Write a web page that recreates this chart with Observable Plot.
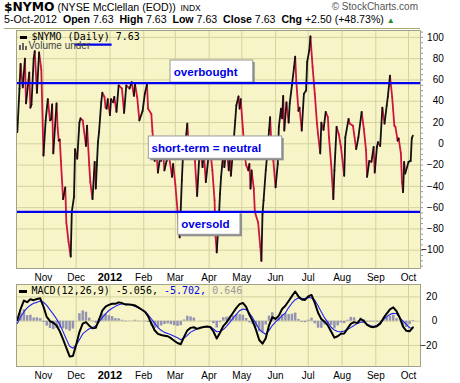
<!DOCTYPE html>
<html><head><meta charset="utf-8">
<script src="https://cdn.jsdelivr.net/npm/d3@7"></script>
<script src="https://cdn.jsdelivr.net/npm/@observablehq/plot@0.6"></script>
<style>
body{margin:0;background:#fff;}
#wrap{position:relative;width:460px;height:383px;overflow:hidden;font-family:"Liberation Sans",Arial,sans-serif;}
.abs{position:absolute;white-space:nowrap;}
#main,#macd{position:absolute;left:0;}
#main{top:28px;} #macd{top:283px;}
.mono{font-family:"DejaVu Sans Mono","Liberation Mono",monospace;font-size:10px;line-height:10px;}
</style></head><body>
<div id="wrap">
  <div id="main"></div>
  <div id="macd"></div>
  <div class="abs" style="left:4px;top:-1px;line-height:13px;">
    <span style="font:bold 12.3px 'DejaVu Sans',sans-serif;">$NYMO</span><span style="font:10.6px 'Liberation Sans',Arial,sans-serif;"> (NYSE McClellan (EOD))</span><span style="font:8.5px 'Liberation Sans',Arial,sans-serif;">&nbsp; INDX</span>
  </div>
  <div class="abs" style="right:42px;top:0;line-height:13px;font-size:10px;color:#555;">© StockCharts.com</div>
  <div class="abs" style="left:4px;top:13px;line-height:13px;font-size:10.6px;color:#000;">5-Oct-2012&nbsp; <b>Open</b> 7.63&nbsp; <b>High</b> 7.63&nbsp; <b>Low</b> 7.63&nbsp; <b>Close</b> 7.63&nbsp; <b>Chg</b> +2.50 (+48.73%) <span style="color:#2a8a2a;font-size:8px;">▲</span></div>
  <div class="abs" style="left:4px;top:28px;width:416px;height:1px;background:#aaa97c;"></div>
  <!-- main legend -->
  <div class="abs" style="left:20px;top:35.5px;width:7px;height:3px;background:#000;"></div>
  <div class="abs mono" style="left:31.5px;top:31.5px;color:#000;">$NYMO (Daily) 7.63</div>
  <svg class="abs" style="left:19px;top:43px;" width="9" height="7"><rect x="0" y="2" width="2" height="5" fill="#666"/><rect x="3" y="0" width="2" height="7" fill="#666"/><rect x="6" y="3" width="2" height="4" fill="#666"/></svg>
  <div class="abs" style="left:28.5px;top:41px;font-size:10px;line-height:10px;color:#444;">Volume under</div>
  <!-- macd legend -->
  <div class="abs" style="left:18.5px;top:289.5px;width:8px;height:3px;background:#000;"></div>
  <div class="abs mono" style="left:31.5px;top:285.5px;"><span style="color:#000">MACD(12,26,9) -5.056,</span><span style="color:#0000ee"> -5.702,</span><span style="color:#999"> 0.646</span></div>
</div>
<script>
// ---------- data ----------
const nymoDates = ["2011-10-08","2011-10-10","2011-10-11","2011-10-13","2011-10-15","2011-10-16","2011-10-19","2011-10-20","2011-10-21","2011-10-23","2011-10-24","2011-10-26","2011-10-28","2011-10-30",
"2011-11-01","2011-11-03","2011-11-05","2011-11-07","2011-11-08","2011-11-09","2011-11-10","2011-11-13","2011-11-14","2011-11-15","2011-11-16","2011-11-17","2011-11-19","2011-11-21","2011-11-22","2011-11-24","2011-11-26","2011-11-27","2011-11-29","2011-11-30",
"2011-12-02","2011-12-04","2011-12-05","2011-12-07","2011-12-10","2011-12-11","2011-12-13","2011-12-14","2011-12-16","2011-12-18","2011-12-19","2011-12-20","2011-12-21","2011-12-22","2011-12-24","2011-12-25","2011-12-27","2011-12-28","2011-12-29","2011-12-30",
"2012-01-01","2012-01-02","2012-01-04","2012-01-05","2012-01-07","2012-01-09","2012-01-12","2012-01-14","2012-01-16","2012-01-19","2012-01-21","2012-01-23","2012-01-24","2012-01-26","2012-01-28","2012-01-31",
"2012-02-02","2012-02-04","2012-02-05","2012-02-08","2012-02-09","2012-02-10","2012-02-11","2012-02-13","2012-02-14","2012-02-16","2012-02-17","2012-02-19","2012-02-20","2012-02-22","2012-02-24","2012-02-27","2012-02-28",
"2012-03-01","2012-03-05","2012-03-07","2012-03-08","2012-03-10","2012-03-12","2012-03-13","2012-03-15","2012-03-17","2012-03-19","2012-03-21","2012-03-23","2012-03-24","2012-03-26","2012-03-27","2012-03-29","2012-03-31",
"2012-04-02","2012-04-04","2012-04-06","2012-04-07","2012-04-08","2012-04-10","2012-04-11","2012-04-12","2012-04-14","2012-04-15","2012-04-17","2012-04-19","2012-04-20","2012-04-21","2012-04-23","2012-04-25","2012-04-26","2012-04-28","2012-04-29","2012-04-30",
"2012-05-02","2012-05-04","2012-05-05","2012-05-07","2012-05-08","2012-05-09","2012-05-10","2012-05-12","2012-05-13","2012-05-16","2012-05-18","2012-05-19","2012-05-20","2012-05-21","2012-05-23","2012-05-24","2012-05-26","2012-05-27","2012-05-28","2012-05-30",
"2012-06-01","2012-06-03","2012-06-04","2012-06-06","2012-06-07","2012-06-08","2012-06-09","2012-06-11","2012-06-13","2012-06-14","2012-06-16","2012-06-18","2012-06-19","2012-06-20","2012-06-22","2012-06-23","2012-06-25","2012-06-27","2012-06-29","2012-06-30",
"2012-07-02","2012-07-03","2012-07-05","2012-07-07","2012-07-09","2012-07-10","2012-07-12","2012-07-13","2012-07-15","2012-07-17","2012-07-19","2012-07-20","2012-07-22","2012-07-24","2012-07-25","2012-07-27","2012-07-29","2012-07-31",
"2012-08-03","2012-08-04","2012-08-07","2012-08-08","2012-08-11","2012-08-14","2012-08-16","2012-08-19","2012-08-21","2012-08-23","2012-08-24","2012-08-26","2012-08-28","2012-08-30","2012-08-31",
"2012-09-02","2012-09-03","2012-09-05","2012-09-07","2012-09-09","2012-09-11","2012-09-12","2012-09-14","2012-09-16","2012-09-18","2012-09-19","2012-09-21","2012-09-22","2012-09-24","2012-09-25","2012-09-26","2012-09-27","2012-09-28",
"2012-10-01","2012-10-03","2012-10-04","2012-10-05"];
const nymoValues = [11,52,75,53,80,38,67,34,37,80,87,48,86,70,
-11,22,42,22,23,37,-9,38,15,3,4,-16,-52,-41,-74,-92,-106,-64,-50,-5,
-14,20,24,22,-2,17,-20,-36,-52,-17,-42,-20,1.5,11,39,48,44,34,33,42,
27,42,39,44,30,55,52,29,55,52,58,45,56,44,22,31,
47,56,33,28,12,-2,-16,-12,-27,-13,-16,-10,-25,-16,-10,-31,-19,
-38,-88,-34,-12,-2,19,3,-2,3,-16,-49,-12,-6,-22,-6,-36,-16,
-5,-25,-53,-88,-102,-69,-47,-31,-9,-22,-3,-25,-8,-30,-5,22,36,44.5,33,42,
14,-13,-20,-25,-19,-42,-25,-42,-64,-74,-97,-110,-66,-53,-25,-14,12.5,25,3,-16,
-41,-19,16,33,24,45,12.5,39,20,38,55,72,82,59,31,34,12.5,47,50,77,
88,101,72,47,19,9,-9,20,13,30,25,6,-19,-52,-25,16,9,-3,
-30,6,23.5,19,17,-5,6,30,14,-6,-31,-16,-17,-3,-27,
-3,1.5,-2,34,19,36,44,64,44,17,16,3,5,-9,-36,-45.5,-17,-28,
-17,-16,5.13,7.63];

// MACD panel: samples every third day from 8 Oct 2011 to 5 Oct 2012
const macdStart = "2011-10-08";
const macdStepDays = 3;
const macdValues = [1,10,17,15.6,18,17.3,18.3,18.8,12,3.5,
0,-1.3,-3.5,-8.4,-15,-22,-29,-28.7,-19.5,-9,
-2,-0.8,-3.7,-5.8,-5.5,1.2,8.7,12,13.4,14.3,
14.3,15.5,14.9,13.8,13.7,13.5,13,11.4,9.6,7.8,
4.2,-1.9,-7.5,-10.4,-11.4,-11.9,-12.4,-14,-16.1,-18,
-19,-12.9,-7.6,-5.5,-5,-6.3,-5.4,-4.8,-4.4,-4.8,
-8.5,-14.3,-9.5,-4,-1,3,7,11,14,15,
11.7,5.2,0,-7,-15.5,-18.5,-14,-3.4,3.3,1.9,
4.6,10,12.7,16.6,20.6,24.4,20.4,17.9,17.5,20.4,
21.6,15,6.9,1.7,-0.4,-3.5,-8.5,-13.6,-12.4,-10.4,
-10.1,-6.1,-2.2,-0.8,-1.6,1.8,0.3,-3.1,-4.5,-4.9,
-4.1,-2,2.5,6.3,9.8,11.4,8.2,2.8,-4.5,-7.9,
-8.3,-5.056];
const signalValues = [-1.9,3.4,7.6,11,13.1,14.7,15.5,16.7,15.6,13,
9.3,5.8,1.9,-2.7,-8.6,-14.9,-20.7,-22.2,-19.6,-15.2,
-10.5,-8.2,-6.2,-5.3,-3.8,-0.6,3,6.1,8.8,10.6,
12.2,13.6,14.1,14.2,13.9,13.3,12.2,11.1,9.7,8.2,
5.3,2,-1.6,-5.2,-7.5,-9.2,-10.2,-11.1,-12.4,-13.7,
-15.3,-13.9,-11.7,-9,-7.6,-6.3,-5.6,-4.9,-4.6,-4.4,
-6.4,-8.7,-8.3,-6.9,-4.2,-1,2.6,5.7,8.6,10.1,
9.5,6.6,2.7,-1.9,-6.7,-9.1,-10.8,-7.6,-3.6,-0.5,
1.8,4.6,6.7,11.2,14.8,17.7,19,18.8,18.7,19.6,
19.1,17.2,12.7,7.6,2.7,-1,-5,-7.3,-8.5,-8.8,
-8.1,-6.9,-5.3,-3.6,-1.8,-0.8,-0.8,-2.5,-3.8,-4.3,
-3.3,-1.3,1.4,3.6,5.6,6.5,6.1,2.8,0,-2.7,
-5.4,-5.702];
const histValues = [2.9,6.6,9.4,4.6,4.9,2.6,2.8,2.1,-1,-4,
-6,-7,-6,-5.7,-6.4,-7.1,-8.3,-6.5,0.1,6.2,
8.5,7.4,2.5,-0.5,-1.7,1.8,5.7,5.9,4.6,3.7,
2.1,1.9,0.8,-0.4,-0.2,0.2,0.8,0.3,-0.1,-0.4,
-1.1,-3.9,-5.9,-5.2,-3.9,-2.7,-2.2,-2.9,-3.7,-4.3,
-3.7,1,4.1,3.5,2.6,0,0.2,0.1,0.2,-0.4,
-2.1,-5.6,-1.2,2.9,3.2,4,4.4,5.3,5.4,4.9,
2.2,-1.4,-2.7,-5.1,-8.8,-9.4,-3.2,4.2,6.9,2.4,
2.8,5.4,6,5.4,5.8,6.7,1.4,-0.9,-1.2,0.8,
2.5,-2.2,-5.8,-5.9,-3.1,-2.5,-3.5,-6.3,-3.9,-1.6,
-2,0.8,3.1,2.8,0.2,2.6,1.1,-0.6,-0.7,-0.6,
-0.8,-0.7,1.1,2.7,4.2,4.9,2.1,0,-4.5,-5.2,
-2.9,0.646];

// axes
const monthTickDates = ["2011-11-01","2011-12-01","2012-01-01","2012-02-01","2012-03-01","2012-04-01","2012-05-01","2012-06-01","2012-07-01","2012-08-01","2012-09-01","2012-10-01"];
const monthLabels = ["Nov","Dec","2012","Feb","Mar","Apr","May","Jun","Jul","Aug","Sep","Oct"];
const mainYTicks = [-100,-80,-60,-40,-20,0,20,40,60,80,100];
const macdYTicks = [-20,0,20];
const xDomainDates = ["2011-10-07T06:00Z","2012-10-12T00:00Z"];
const mainYDomain = [-117.2, 106.5];
const macdYDomain = [-37.3, 30.2];

// annotations (user-drawn on the chart)
const levelValues = [57, -64];
const markX1 = ["2011-11-30"], markX2 = ["2012-01-03"], markY = [93.3];
const noteLabels = ["overbought","short-term = neutral","oversold"];
const noteTextX = ["2012-02-28T14:00Z","2012-02-08T02:00Z","2012-03-06T10:00Z"];
const noteTextY = [63.3, -7.9, -79.3];
const noteBoxX1 = ["2012-02-25T14:00Z","2012-02-05T16:00Z","2012-03-03T16:00Z"];
const noteBoxX2 = ["2012-05-11T12:00Z","2012-06-07T02:00Z","2012-04-29T19:00Z"];
const noteBoxY1 = [57.5, -14.1, -85.5];
const noteBoxY2 = [78.3, 6.9, -64.3];

// ---------- build ----------
const D = s => new Date(s.length === 10 ? s + "T00:00Z" : s);
const xDomain = xDomainDates.map(D);
const monthTicks = monthTickDates.map(D);
const labelOf = new Map(monthTicks.map((d, i) => [+d, monthLabels[i]]));
const yearTick = [monthTicks[2]];

const nymo = nymoDates.map((d, i) => ({date: D(d), value: nymoValues[i]}));
const segs = d3.pairs(nymo).map(([a, b]) => ({x1: a.date, y1: a.value, x2: b.date, y2: b.value, up: b.value >= a.value}));
const notes = noteLabels.map((t, i) => ({label: t, tx: D(noteTextX[i]), ty: noteTextY[i], bx1: D(noteBoxX1[i]), bx2: D(noteBoxX2[i]), by1: noteBoxY1[i], by2: noteBoxY2[i]}));
const marks = markY.map((v, i) => ({y: v, x1: D(markX1[i]), x2: D(markX2[i])}));

const t0 = D(macdStart);
const macd = macdValues.map((v, i) => ({date: d3.utcDay.offset(t0, i * macdStepDays), macd: v, signal: signalValues[i], hist: histValues[i]}));

const BG = "#f7f5c8", GRID = "#d3d29f", BORDER = "#a2a28a";
const font = {fontFamily: "'Liberation Sans', Arial, sans-serif", fontSize: "10px", background: "transparent", color: "#000"};

const mainChart = Plot.plot({
  width: 460, height: 255,
  marginLeft: 16, marginRight: 40, marginTop: 2, marginBottom: 15,
  style: font,
  x: {type: "utc", domain: xDomain},
  y: {domain: mainYDomain},
  marks: [
    Plot.frame({fill: BG, stroke: "none"}),
    Plot.gridX(monthTicks, {stroke: GRID, strokeOpacity: 1}),
    Plot.gridY(mainYTicks, {stroke: GRID, strokeOpacity: 1}),
    Plot.link(segs.filter(s => !s.up), {x1: "x1", y1: "y1", x2: "x2", y2: "y2", stroke: "#d0143c", strokeWidth: 1.8, strokeLinecap: "round"}),
    Plot.link(segs.filter(s => s.up), {x1: "x1", y1: "y1", x2: "x2", y2: "y2", stroke: "#111", strokeWidth: 1.8, strokeLinecap: "round"}),
    Plot.rect(notes, {x1: "bx1", x2: "bx2", y1: "by1", y2: "by2", fill: "#8c8c8c", dx: 2, dy: 2}),
    Plot.rect(notes, {x1: "bx1", x2: "bx2", y1: "by1", y2: "by2", fill: "#fff", stroke: "#9a9a9a", strokeWidth: 1}),
    Plot.text(notes, {x: "tx", y: "ty", text: "label", textAnchor: "start", lineAnchor: "bottom", fill: "#0000e6", fontWeight: "bold", fontSize: 11.6}),
    Plot.ruleY(levelValues, {stroke: "#0000ee", strokeWidth: 2.2}),
    Plot.ruleY(marks, {y: "y", x1: "x1", x2: "x2", stroke: "#0000ee", strokeWidth: 2.2}),
    Plot.frame({stroke: BORDER}),
    Plot.axisY(d3.range(-115, 106, 5), {anchor: "right", tickSize: 2, stroke: "#999", tickFormat: () => ""}),
    Plot.axisY(mainYTicks, {anchor: "right", tickSize: 0, tickPadding: 23.3, textAnchor: "end", label: null, fill: "#000"}),
    Plot.axisX(monthTicks, {anchor: "bottom", tickSize: 0, tickPadding: 5, label: null, tickFormat: d => (+d === +yearTick[0] ? "" : labelOf.get(+d)), fill: "#000"}),
    Plot.axisX(yearTick, {anchor: "bottom", tickSize: 0, tickPadding: 4.5, label: null, tickFormat: d => labelOf.get(+d), fontWeight: "bold", fontSize: 11, fill: "#000"})
  ]
});
document.getElementById("main").appendChild(mainChart);

const macdChart = Plot.plot({
  width: 460, height: 100,
  marginLeft: 16, marginRight: 40, marginTop: 1, marginBottom: 17,
  style: font,
  x: {type: "utc", domain: xDomain},
  y: {domain: macdYDomain},
  marks: [
    Plot.frame({fill: BG, stroke: "none"}),
    Plot.gridX(monthTicks, {stroke: GRID, strokeOpacity: 1}),
    Plot.gridY(macdYTicks, {stroke: GRID, strokeOpacity: 1}),
    Plot.ruleX(macd, {x: "date", y1: 0, y2: "hist", stroke: "#9494b2", strokeWidth: 2.5}),
    Plot.line(macd, {x: "date", y: "signal", stroke: "#2222ee", strokeWidth: 1.1}),
    Plot.line(macd, {x: "date", y: "macd", stroke: "#000", strokeWidth: 2}),
    Plot.frame({stroke: BORDER}),
    Plot.axisY(macdYTicks, {anchor: "right", tickSize: 0, tickPadding: 16.7, textAnchor: "end", label: null, fill: "#000"}),
    Plot.axisX(monthTicks, {anchor: "bottom", tickSize: 0, tickPadding: 5, label: null, tickFormat: d => (+d === +yearTick[0] ? "" : labelOf.get(+d)), fill: "#000"}),
    Plot.axisX(yearTick, {anchor: "bottom", tickSize: 0, tickPadding: 4.5, label: null, tickFormat: d => labelOf.get(+d), fontWeight: "bold", fontSize: 11, fill: "#000"})
  ]
});
document.getElementById("macd").appendChild(macdChart);
</script>
</body></html>
